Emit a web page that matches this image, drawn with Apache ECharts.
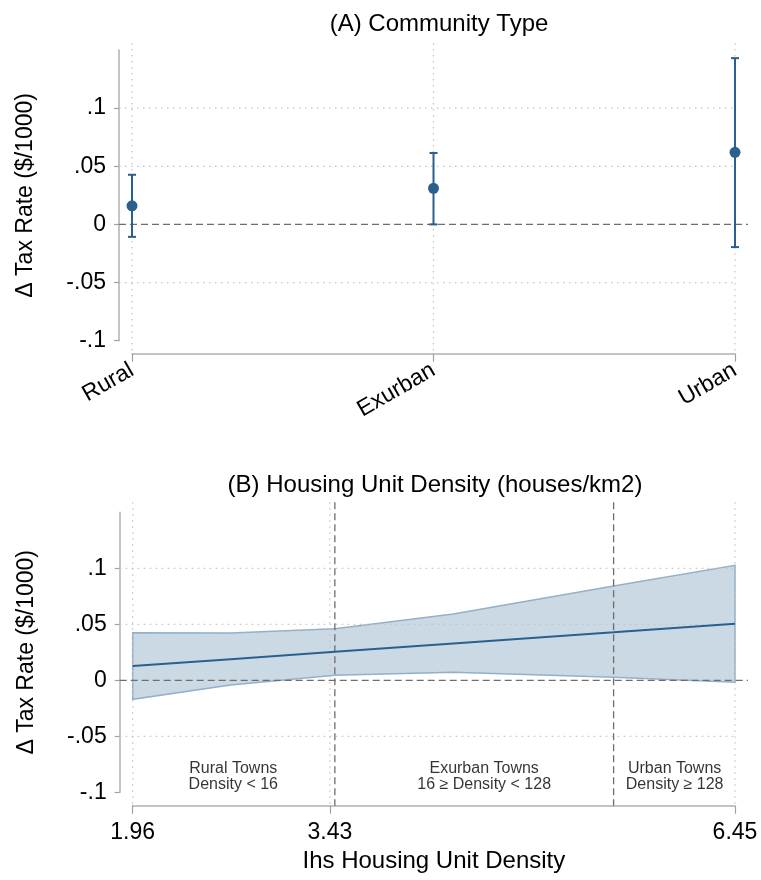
<!DOCTYPE html>
<html lang="en">
<head>
	<meta charset="utf-8">
	<title>Tax rate by community type</title>
	<script src="https://cdn.jsdelivr.net/npm/echarts@6/dist/echarts.min.js"></script>
	<style type="text/css">
		html, body {margin:0;padding:0;background:#fff}
		#main {width:761px;height:880px}
	</style>
</head>
<body>
	<div id="main"></div>
	<script>
		<!--Panel A data-->
		var categories = ['Rural', 'Exurban', 'Urban'];
		var coefA = [0.016, 0.031, 0.062];
		var lowA = [-0.0107, 0.0, -0.0195];
		var highA = [0.0427, 0.0614, 0.143];

		<!--Panel B data-->
		var densityX = [1.96, 2.69, 3.467, 4.35, 5.545, 6.45];
		var fitB = [0.0128, 0.0189, 0.0255, 0.0329, 0.0429, 0.0505];
		var upperB = [0.0425, 0.0422, 0.046, 0.0592, 0.0842, 0.1027];
		var lowerB = [-0.017, -0.0042, 0.0045, 0.0071, 0.0027, -0.0018];
		var cutoffs = [3.467, 5.545];
		var xTicksB = [1.96, 3.43, 6.45];
		var regionX = [2.71, 4.58, 6.0];
		var regionText = ['Rural Towns\nDensity < 16', 'Exurban Towns\n16 \u2265 Density < 128', 'Urban Towns\nDensity \u2265 128'];

		var yTicks = [-0.1, -0.05, 0, 0.05, 0.1];
		var yGrid = [-0.05, 0.05, 0.1];

		var navy = '#2b5f8e';
		var font = 'Liberation Sans, Arial, Helvetica, sans-serif';

		function fmtY(v) {
			if (Math.abs(v) < 1e-9) return '0';
			return String(+v.toFixed(2)).replace(/^(-?)0\./, '$1.');
		}

		<!--segments in data coords, padded in pixels-->
		function segments(gi, segs, style, padL, padR, z) {
			return {
				type: 'custom',
				xAxisIndex: gi, yAxisIndex: gi,
				clip: false, silent: true, z: z,
				encode: {x: [0, 2], y: [1, 3]},
				data: segs,
				renderItem: function (params, api) {
					var a = api.coord([api.value(0), api.value(1)]);
					var b = api.coord([api.value(2), api.value(3)]);
					var horiz = Math.abs(a[1] - b[1]) < 0.5;
					return {
						type: 'line',
						shape: {
							x1: horiz ? a[0] - padL : a[0], y1: horiz ? a[1] : a[1] - padL,
							x2: horiz ? b[0] + padR : b[0], y2: horiz ? b[1] : b[1] + padR
						},
						style: style
					};
				}
			};
		}

		var dotted = {stroke: '#c4c4c4', lineWidth: 1.2, lineDash: [1.5, 4.5]};
		var dashed = {stroke: '#6e6e6e', lineWidth: 1.3, lineDash: [7, 4]};

		function yAxisOf(gi) {
			return {
				type: 'value', gridIndex: gi, min: -0.1, max: 0.15, offset: 13,
				name: '\u0394 Tax Rate ($/1000)', nameLocation: 'middle', nameGap: 82,
				nameTextStyle: {fontSize: 23, color: '#000', fontFamily: font},
				axisLine: {show: true, onZero: false, lineStyle: {color: '#b0b0b0', width: 1.5}},
				axisTick: {show: true, length: 5, customValues: yTicks, lineStyle: {color: '#a0a0a0', width: 1.2}},
				axisLabel: {customValues: yTicks, formatter: fmtY, fontSize: 23, color: '#000', margin: 13, fontFamily: font},
				splitLine: {show: false}
			};
		}

		var myChart = echarts.init(document.getElementById('main'));

		var option = {
			animation: false,
			backgroundColor: '#fff',
			textStyle: {fontFamily: font},
			title: [
				{text: '(A) Community Type', left: 434, top: 7, textAlign: 'center',
				 textStyle: {fontSize: 24, fontWeight: 'normal', color: '#000', fontFamily: font}},
				{text: '(B) Housing Unit Density (houses/km2)', left: 430, top: 468, textAlign: 'center',
				 textStyle: {fontSize: 24, fontWeight: 'normal', color: '#000', fontFamily: font}}
			],
			grid: [
				{left: 132, right: 26, top: 50, bottom: 539.3, outerBoundsMode: 'none'},
				{left: 132.7, right: 26, top: 512.3, bottom: 87.7, outerBoundsMode: 'none'}
			],
			xAxis: [
				{
					type: 'category', gridIndex: 0, data: categories, boundaryGap: false, offset: 13,
					axisLine: {show: true, onZero: false, lineStyle: {color: '#b0b0b0', width: 1.5}},
					axisTick: {show: true, length: 8, alignWithLabel: true, lineStyle: {color: '#a0a0a0', width: 1.2}},
					axisLabel: {rotate: 30, interval: 0, fontSize: 23, color: '#000', margin: 15, fontFamily: font},
					splitLine: {show: false}
				},
				{
					type: 'value', gridIndex: 1, min: 1.96, max: 6.45, offset: 13.4,
					name: 'Ihs Housing Unit Density', nameLocation: 'middle', nameGap: 44,
					nameTextStyle: {fontSize: 24, color: '#000', fontFamily: font},
					axisLine: {show: true, onZero: false, lineStyle: {color: '#b0b0b0', width: 1.5}},
					axisTick: {show: true, length: 8, customValues: xTicksB, lineStyle: {color: '#a0a0a0', width: 1.2}},
					axisLabel: {customValues: xTicksB, formatter: function (v) { return v.toFixed(2); },
					            fontSize: 23, color: '#000', margin: 15, fontFamily: font},
					splitLine: {show: false}
				}
			],
			yAxis: [yAxisOf(0), yAxisOf(1)],
			series: [
				<!--Panel A grid-->
				segments(0, yGrid.map(function (y) { return [0, y, 2, y]; }), dotted, 13, 2, 1),
				segments(0, categories.map(function (c, i) { return [i, 0.156, i, -0.1116]; }), dotted, 0, 0, 1),
				segments(0, [[0, 0, 2, 0]], dashed, 13, 13, 2),
				{
					type: 'custom', xAxisIndex: 0, yAxisIndex: 0, z: 3, silent: true,
					data: categories.map(function (c, i) { return [i, lowA[i], highA[i]]; }),
					renderItem: function (params, api) {
						var lo = api.coord([api.value(0), api.value(1)]);
						var hi = api.coord([api.value(0), api.value(2)]);
						var st = {stroke: navy, lineWidth: 2};
						return {type: 'group', children: [
							{type: 'line', shape: {x1: lo[0], y1: lo[1], x2: hi[0], y2: hi[1]}, style: st},
							{type: 'line', shape: {x1: lo[0] - 4, y1: lo[1], x2: lo[0] + 4, y2: lo[1]}, style: st},
							{type: 'line', shape: {x1: hi[0] - 4, y1: hi[1], x2: hi[0] + 4, y2: hi[1]}, style: st}
						]};
					}
				},
				{
					type: 'scatter', xAxisIndex: 0, yAxisIndex: 0, z: 4, silent: true,
					symbol: 'circle', symbolSize: 11, itemStyle: {color: navy, opacity: 1},
					data: coefA
				},
				<!--Panel B confidence band-->
				{
					type: 'custom', xAxisIndex: 1, yAxisIndex: 1, z: 1, silent: true,
					data: [0],
					renderItem: function (params, api) {
						var pts = [];
						for (var i = 0; i < densityX.length; i++) pts.push(api.coord([densityX[i], upperB[i]]));
						for (var j = densityX.length - 1; j >= 0; j--) pts.push(api.coord([densityX[j], lowerB[j]]));
						return {type: 'polygon', shape: {points: pts},
						        style: {fill: '#cbd9e5', stroke: '#93b0c9', lineWidth: 1.5}};
					}
				},
				segments(1, yGrid.map(function (y) { return [1.96, y, 6.45, y]; }), dotted, 13, 2, 2),
				segments(1, xTicksB.map(function (x) { return [x, 0.159, x, -0.112]; }), dotted, 0, 0, 2),
				segments(1, [[1.96, 0, 6.45, 0]], dashed, 13, 13, 3),
				segments(1, cutoffs.map(function (x) { return [x, 0.159, x, -0.112]; }), dashed, 0, 0, 3),
				{
					type: 'line', xAxisIndex: 1, yAxisIndex: 1, z: 4, silent: true,
					showSymbol: false, symbol: 'none',
					lineStyle: {color: navy, width: 2},
					data: densityX.map(function (x, i) { return [x, fitB[i]]; })
				},
				{
					type: 'scatter', xAxisIndex: 1, yAxisIndex: 1, z: 5, silent: true,
					symbolSize: 0,
					label: {show: true, position: 'inside', color: '#000', fontSize: 16, lineHeight: 16,
					        align: 'center', fontFamily: font,
					        formatter: function (p) { return regionText[p.dataIndex]; }},
					data: regionX.map(function (x) { return [x, -0.086]; })
				}
			]
		};

		myChart.setOption(option);
	</script>
</body>
</html>
